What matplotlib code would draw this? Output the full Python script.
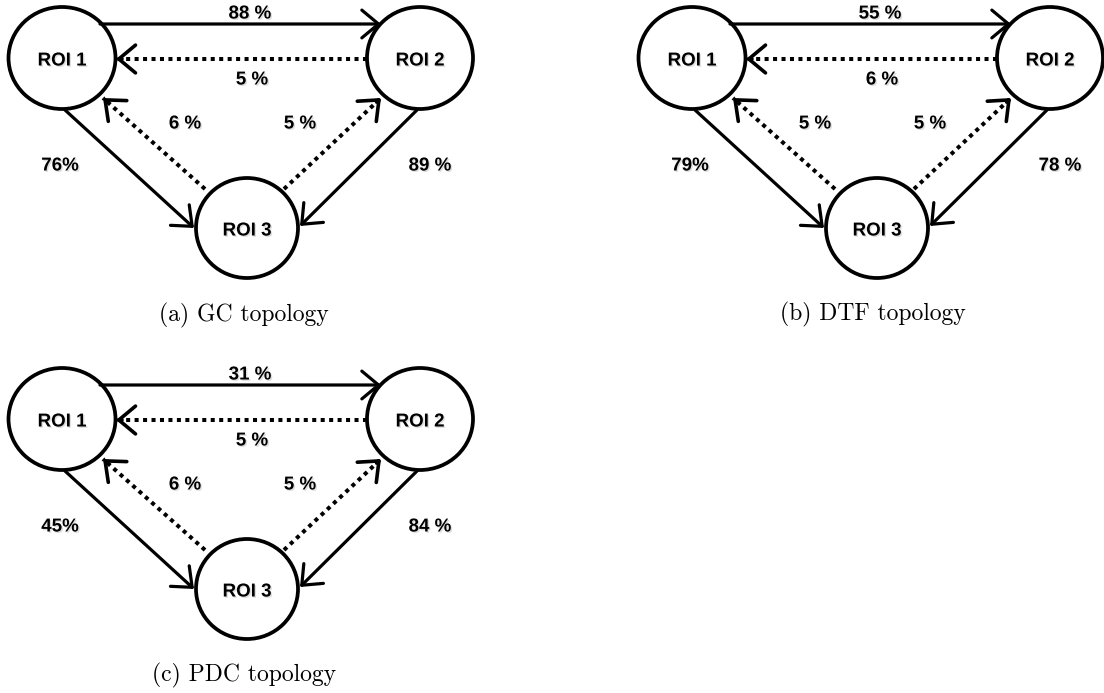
import matplotlib.pyplot as plt
import matplotlib.patheffects as pe
from matplotlib.patches import Ellipse
import numpy as np

plt.rcParams['font.family'] = ['Liberation Sans', 'DejaVu Sans']

# connection strengths (%) per method, edge order:
# 1->2, 2->1, 3->1, 3->2, 1->3, 2->3
methods = ['GC', 'DTF', 'PDC']
captions = ['(a) GC topology', '(b) DTF topology', '(c) PDC topology']
gc_vals = [88, 5, 6, 5, 76, 89]
dtf_vals = [55, 6, 5, 5, 79, 78]
pdc_vals = [31, 5, 6, 5, 45, 84]
values = [gc_vals, dtf_vals, pdc_vals]

nodes = ['ROI 1', 'ROI 2', 'ROI 3']
edges = [(0, 1), (1, 0), (2, 0), (2, 1), (0, 2), (1, 2)]
edge_dotted = [False, True, True, True, False, False]
label_fmt = ['{} %', '{} %', '{} %', '{} %', '{}%', '{} %']

# layout inside one panel (pixels)
node_xy = [(62, 58), (420, 58), (247, 228)]
node_size = [(107, 102), (106, 102), (102, 100)]
edge_pts = [((100, 24), (381, 24)),
            ((367, 59), (116, 59)),
            ((205, 189), (103, 98)),
            ((284, 189), (381, 98)),
            ((65, 110), (194, 228)),
            ((417, 110), (300, 226))]
label_xy = [(250, 14), (252, 80), (185, 124), (300, 124), (60, 166), (430, 166)]
panel_offsets = [(0, 0), (630, 0), (0, 361)]
caption_xy = [(244, 315), (873, 314), (244, 675)]

fig = plt.figure(figsize=(11.04, 6.93), dpi=100)
ax = fig.add_axes([0, 0, 1, 1])
ax.set_xlim(0, 1104)
ax.set_ylim(693, 0)
ax.axis('off')

shadow = [pe.SimplePatchShadow(offset=(1, -1), shadow_rgbFace='gray', alpha=0.25), pe.Normal()]
head = '->, head_length=0.6, head_width=0.5'

for k, vals in enumerate(values):
    ox, oy = panel_offsets[k]
    for (x, y), (w, h), name in zip(node_xy, node_size, nodes):
        ax.add_patch(Ellipse((x + ox, y + oy), w, h, fill=False, lw=2.7, ec='black'))
        ax.text(x + ox, y + oy + 3, name, ha='center', va='center', fontsize=13.5,
                fontweight='bold', path_effects=shadow)
    for i, (p0, p1) in enumerate(edge_pts):
        x0, y0 = p0[0] + ox, p0[1] + oy
        x1, y1 = p1[0] + ox, p1[1] + oy
        if edge_dotted[i]:
            ax.plot([x0, x1], [y0, y1], color='black', lw=2.9, linestyle=(0, (1.0, 1.1)),
                    solid_capstyle='butt', dash_capstyle='butt')
            d = np.array([x1 - x0, y1 - y0])
            d = d / np.hypot(*d)
            ax.annotate('', xy=(x1, y1), xytext=(x1 - 6 * d[0], y1 - 6 * d[1]),
                        arrowprops=dict(arrowstyle=head, lw=2.6, color='black',
                                        shrinkA=0, shrinkB=0, mutation_scale=20))
        else:
            ax.annotate('', xy=(x1, y1), xytext=(x0, y0),
                        arrowprops=dict(arrowstyle=head, lw=2.3, color='black',
                                        shrinkA=0, shrinkB=0, mutation_scale=20))
        lx, ly = label_xy[i]
        ax.text(lx + ox, ly + oy, label_fmt[i].format(vals[i]), ha='center', va='center',
                fontsize=13.5, fontweight='bold', path_effects=shadow)
    cx, cy = caption_xy[k]
    ax.text(cx, cy, captions[k], ha='center', va='center', fontsize=17, family='cmr10')

fig.savefig('out.png', dpi=100)
